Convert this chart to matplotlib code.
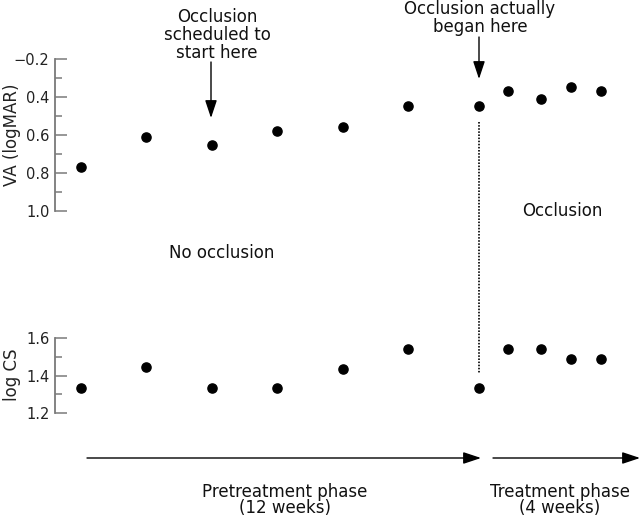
import matplotlib
matplotlib.use("Agg")
import matplotlib.pyplot as plt

# week of each visit
weeks = [0, 2, 4, 6, 8, 10, 12.17, 13.05, 14.08, 14.97, 15.91]
va = [0.77, 0.61, 0.65, 0.58, 0.56, 0.45, 0.45, 0.37, 0.41, 0.35, 0.37]
cs = [1.335, 1.445, 1.335, 1.335, 1.435, 1.54, 1.335, 1.54, 1.54, 1.49, 1.49]
occlusion_start = 12.17

va_ticks = [0.2, 0.4, 0.6, 0.8, 1.0]
va_ticklabels = ["\u22120.2", "0.4", "0.6", "0.8", "1.0"]
cs_ticks = [1.2, 1.4, 1.6]
cs_ticklabels = ["1.2", "1.4", "1.6"]

W, H = 640, 518
fig = plt.figure(figsize=(W / 100, H / 100), dpi=100)

# x limits so that week 0 sits at pixel 81, 32.7 px per week
xlim = ((55 - 81) / 32.7, (640 - 81) / 32.7)

def make_axes(top_px, bottom_px):
    ax = fig.add_axes([55 / W, 1 - bottom_px / H, 585 / W, (bottom_px - top_px) / H])
    for s in ["top", "right", "bottom"]:
        ax.spines[s].set_visible(False)
    ax.spines["left"].set_color("#7a7a7a")
    ax.spines["left"].set_linewidth(1.3)
    ax.set_xticks([])
    ax.set_xlim(*xlim)
    ax.tick_params(axis="y", which="major", direction="in", length=8.5, width=1.1,
                   color="#7a7a7a", labelsize=10.5, pad=4, labelcolor="#222222")
    ax.tick_params(axis="y", which="minor", direction="in", length=5, width=1.1,
                   color="#7a7a7a")
    ax.patch.set_alpha(0)
    return ax

ax_va = make_axes(59, 211)
ax_va.set_ylim(1.0, 0.2)
ax_va.set_yticks(va_ticks)
ax_va.set_yticklabels(va_ticklabels)
ax_va.set_yticks([0.3, 0.5, 0.7, 0.9], minor=True)
ax_va.plot(weeks, va, "o", color="black", ms=6.6, clip_on=False)

ax_cs = make_axes(338, 413)
ax_cs.set_ylim(1.2, 1.6)
ax_cs.set_yticks(cs_ticks)
ax_cs.set_yticklabels(cs_ticklabels)
ax_cs.set_yticks([1.3, 1.5], minor=True)
ax_cs.plot(weeks, cs, "o", color="black", ms=6.6, clip_on=False)

# overlay in pixel coordinates for the annotations
ov = fig.add_axes([0, 0, 1, 1])
ov.set_xlim(0, W)
ov.set_ylim(H, 0)
ov.axis("off")
ov.patch.set_alpha(0)

fs = 12
txt = dict(ha="center", va="center", fontsize=fs, color="#111111")
fig.text(12 / W, 1 - 135 / H, "VA (logMAR)", rotation=90, ha="center", va="center",
         fontsize=fs, color="#222222")
fig.text(12 / W, 1 - 375 / H, "log CS", rotation=90, ha="center", va="center",
         fontsize=fs, color="#222222")

ov.text(217, 35, "Occlusion\nscheduled to\nstart here", linespacing=1.0, **txt)
ov.text(480, 18, "Occlusion actually\nbegan here", linespacing=1.0, **txt)
ov.text(222, 253, "No occlusion", **txt)
ov.text(562, 211, "Occlusion", **txt)
ov.text(285, 500, "Pretreatment phase\n(12 weeks)", linespacing=0.92, **txt)
ov.text(560, 500, "Treatment phase\n(4 weeks)", linespacing=0.92, **txt)

ap = dict(arrowstyle="-|>,head_length=0.6,head_width=0.2", color="black", lw=1.0,
          mutation_scale=18, shrinkA=0, shrinkB=0)
ov.annotate("", xy=(211, 118), xytext=(211, 62), arrowprops=ap)
ov.annotate("", xy=(479, 79), xytext=(479, 37), arrowprops=ap)
ov.annotate("", xy=(481, 458), xytext=(87, 458), arrowprops=ap)
ov.annotate("", xy=(640, 458), xytext=(493, 458), arrowprops=ap)

# dotted line marking the actual start of occlusion
x_occ = 81 + 32.7 * occlusion_start
ov.plot([x_occ, x_occ], [122, 373], color="#222222", lw=1.4, ls=(0, (0.8, 0.8)))

fig.savefig("out.png", dpi=100)
